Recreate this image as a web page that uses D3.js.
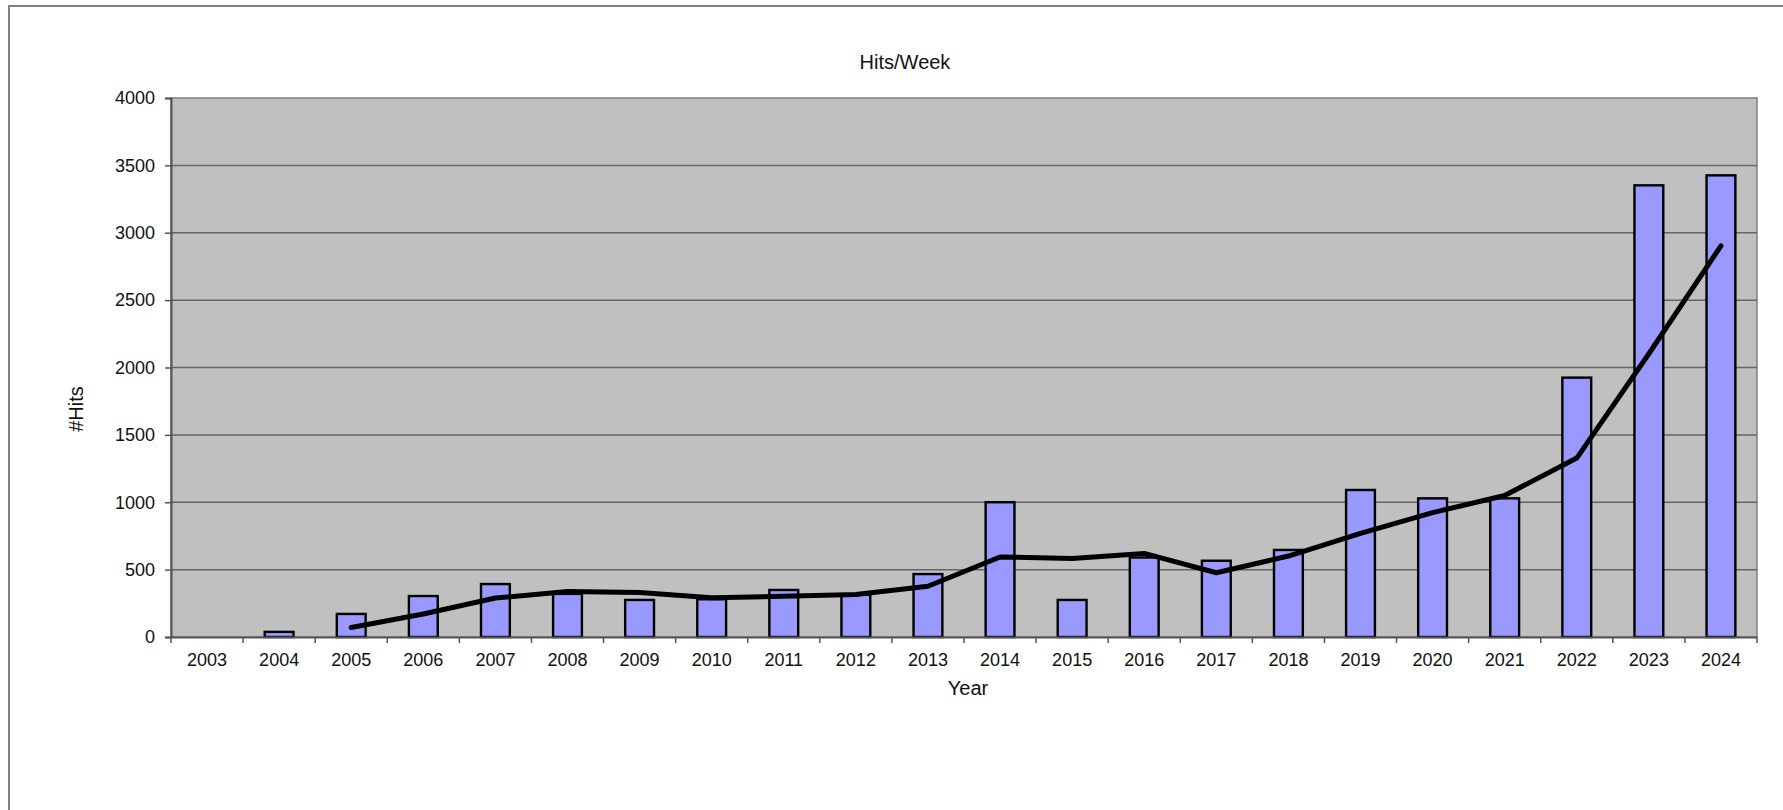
<!DOCTYPE html>
<html>
<head>
<meta charset="utf-8">
<script src="https://cdn.jsdelivr.net/npm/d3@7"></script>
<style>
  html, body { margin: 0; padding: 0; background: #fff; }
  svg { display: block; font-family: "Liberation Sans", Arial, sans-serif; }
</style>
</head>
<body>
<svg id="chart" width="1783" height="810"></svg>
<script>
const years = ["2003","2004","2005","2006","2007","2008","2009","2010","2011","2012","2013",
               "2014","2015","2016","2017","2018","2019","2020","2021","2022","2023","2024"];
const hits = [0, 38, 171, 304, 393, 320, 275, 280, 349, 315, 467,
              1000, 275, 590, 566, 646, 1091, 1029, 1029, 1925, 3352, 3426];
// trend line values (3-year moving average), starting 2005
const trendYears = years.slice(2);
const trend = [70, 171, 289, 337, 330, 292, 302, 315, 377, 594, 582, 620, 477, 601, 769, 923,
               1050, 1328, 2102, 2903];
const yTicks = [0, 500, 1000, 1500, 2000, 2500, 3000, 3500, 4000];

const svg = d3.select("#chart");
const L = 171, R = 1757, T = 98, B = 637;

// outer frame
svg.append("rect").attr("x", 9).attr("y", 6).attr("width", 1800).attr("height", 840)
  .attr("fill", "#fff").attr("stroke", "#808080").attr("stroke-width", 2);

const x = d3.scaleBand().domain(years).range([L, R]).paddingInner(0.6).paddingOuter(0.3);
const y = d3.scaleLinear().domain([0, 4000]).range([B, T]);

// plot area
svg.append("rect").attr("x", L).attr("y", T).attr("width", R - L).attr("height", B - T)
  .attr("fill", "#C0C0C0").attr("stroke", "#808080").attr("stroke-width", 1.5);

// gridlines
svg.append("g").selectAll("line").data(yTicks.filter(d => d > 0 && d < 4000)).join("line")
  .attr("x1", L).attr("x2", R).attr("y1", d => y(d)).attr("y2", d => y(d))
  .attr("stroke", "#646464").attr("stroke-width", 1.5);

// bars
svg.append("g").selectAll("rect").data(years.map((yr, i) => ({yr, v: hits[i]})).filter(d => d.v > 0))
  .join("rect")
  .attr("x", d => x(d.yr)).attr("width", x.bandwidth())
  .attr("y", d => y(d.v)).attr("height", d => B - y(d.v))
  .attr("fill", "#9999FF").attr("stroke", "#000").attr("stroke-width", 2.4);

// trend line
const line = d3.line().x((d, i) => x(trendYears[i]) + x.bandwidth() / 2).y(d => y(d));
svg.append("path").datum(trend).attr("d", line)
  .attr("fill", "none").attr("stroke", "#000").attr("stroke-width", 5)
  .attr("stroke-linejoin", "round").attr("stroke-linecap", "round");

// y axis
const yAxis = d3.axisLeft(y).tickValues(yTicks).tickSize(6).tickPadding(10).tickFormat(d3.format("d"));
const gy = svg.append("g").attr("transform", `translate(${L},0)`).call(yAxis);
gy.select(".domain").attr("stroke", "#555").attr("stroke-width", 2);
gy.selectAll(".tick line").attr("stroke", "#555").attr("stroke-width", 1.5);
gy.selectAll(".tick text").attr("font-size", 18).attr("fill", "#111")
  .attr("font-family", "'Liberation Sans', Arial, sans-serif");

// x axis
const xAxis = d3.axisBottom(x).tickSize(0).tickPadding(16);
const gx = svg.append("g").attr("transform", `translate(0,${B})`).call(xAxis);
gx.select(".domain").attr("stroke", "#555").attr("stroke-width", 2);
gx.selectAll(".tick text").attr("font-size", 18).attr("fill", "#111")
  .attr("font-family", "'Liberation Sans', Arial, sans-serif");
// boundary ticks between categories
const bounds = d3.range(years.length + 1).map(i => L + i * x.step());
gx.append("g").selectAll("line").data(bounds).join("line")
  .attr("x1", d => d).attr("x2", d => d).attr("y1", 0).attr("y2", 6)
  .attr("stroke", "#555").attr("stroke-width", 1.5);

// titles
svg.append("text").attr("x", 905).attr("y", 69).attr("text-anchor", "middle")
  .attr("font-size", 20).attr("fill", "#111").text("Hits/Week");
svg.append("text").attr("x", 968).attr("y", 695).attr("text-anchor", "middle")
  .attr("font-size", 20).attr("fill", "#111").text("Year");
svg.append("text").attr("transform", "translate(83,409) rotate(-90)").attr("text-anchor", "middle")
  .attr("font-size", 20).attr("fill", "#111").text("#Hits");
</script>
</body>
</html>
